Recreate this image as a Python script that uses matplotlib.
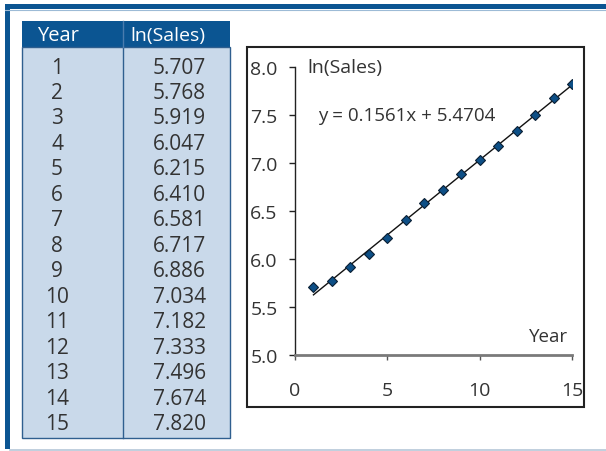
import matplotlib
matplotlib.use("Agg")
import matplotlib.pyplot as plt
from matplotlib.patches import Rectangle
import numpy as np

years = [1, 2, 3, 4, 5, 6, 7, 8, 9, 10, 11, 12, 13, 14, 15]
ln_sales = [5.707, 5.768, 5.919, 6.047, 6.215, 6.410, 6.581, 6.717,
            6.886, 7.034, 7.182, 7.333, 7.496, 7.674, 7.820]
slope = 0.1561
intercept = 5.4704
col_headers = ["Year", "ln(Sales)"]
x_ticks = [0, 5, 10, 15]
y_ticks = [5.0, 5.5, 6.0, 6.5, 7.0, 7.5, 8.0]

W, H = 606, 452
plt.rcParams['font.family'] = ['Open Sans', 'DejaVu Sans']
fig = plt.figure(figsize=(W / 100, H / 100), dpi=100)
fig.patch.set_facecolor('white')

# overlay in pixel coordinates
bg = fig.add_axes([0, 0, 1, 1])
bg.set_xlim(0, W)
bg.set_ylim(H, 0)
bg.axis('off')

blue = '#0b5592'
cell = '#c9d9ea'
txt = '#333333'
fw = 'normal'

# frame
bg.add_patch(Rectangle((5, 5), W - 5, 5, color=blue, lw=0))
bg.add_patch(Rectangle((5, 5), 5, 445, color=blue, lw=0))
bg.plot([5, W], [10.5, 10.5], color='#9dbbd6', lw=0.8)
bg.plot([10, W], [450.5, 450.5], color='#b5c7d8', lw=1.2)

# table
tx0, tx1, ty0, thead, ty1 = 22, 230, 22, 48, 439
colx = 123
bg.add_patch(Rectangle((tx0, ty0), tx1 - tx0, thead - ty0, color=blue, lw=0))
bg.add_patch(Rectangle((tx0, thead), tx1 - tx0, ty1 - thead, facecolor=cell,
                       edgecolor='#2f5f8f', lw=1.0))
bg.plot([colx, colx], [thead, ty1], color='#2f5f8f', lw=1.0)
bg.plot([colx, colx], [ty0, thead], color='#4a7cae', lw=1.0)
bg.text(58, 36, col_headers[0], color='white', fontsize=14.5, ha='center', va='center',
        fontweight=fw)
bg.text(168, 36, col_headers[1], color='white', fontsize=14, ha='center', va='center',
        fontweight=fw)
for i, (yr, v) in enumerate(zip(years, ln_sales)):
    yy = 68 + 25.5 * i
    bg.text(57, yy, str(yr), color=txt, fontsize=15, ha='center', va='center',
            fontweight=fw)
    bg.text(206, yy, f"{v:.3f}", color=txt, fontsize=15, ha='right', va='center',
            fontweight=fw)

# chart box
bg.add_patch(Rectangle((247, 48), 584 - 247, 408 - 48, facecolor='none',
                       edgecolor='#222222', lw=1.5))

# chart axes
ax = fig.add_axes([295 / W, (H - 356) / H, 277 / W, 288 / H])
ax.patch.set_alpha(0)
ax.set_xlim(0, 15)
ax.set_ylim(5.0, 8.0)
xs = np.array([years[0], years[-1]], dtype=float)
ax.plot(xs, slope * xs + intercept, color='#111111', lw=1.0, zorder=2)
ax.plot(years, ln_sales, linestyle='none', marker='D', markersize=5.5,
        markerfacecolor='#0d4f86', markeredgecolor='#0a1f33', markeredgewidth=0.8, zorder=3)
for s in ['top', 'right']:
    ax.spines[s].set_visible(False)
ax.spines['left'].set_color('#222222')
ax.spines['left'].set_linewidth(1.0)
ax.spines['bottom'].set_color('#7a7a7a')
ax.spines['bottom'].set_linewidth(2.0)
ax.set_xticks(x_ticks)
ax.set_xticklabels([str(t) for t in x_ticks])
ax.set_yticks(y_ticks)
ax.set_yticklabels([f"{t:.1f}" for t in y_ticks])
ax.tick_params(axis='y', direction='out', length=4.5, width=1.0, colors='#222222',
               labelcolor=txt, labelsize=14, pad=8)
ax.tick_params(axis='x', direction='out', length=3.5, width=1.0, colors='#555555',
               labelcolor=txt, labelsize=14, pad=15)
ax.text(0.65, 8.0, "ln(Sales)", fontsize=14, color=txt, ha='left', va='center',
        fontweight=fw)
ax.text(1.25, 7.5, f"y = {slope}x + {intercept}", fontsize=13.5, color=txt,
        ha='left', va='center', fontweight=fw)
ax.text(14.8, 5.2, "Year", fontsize=13.5, color=txt, ha='right', va='center',
        fontweight=fw)

fig.savefig('out.png', dpi=100, facecolor='white')
